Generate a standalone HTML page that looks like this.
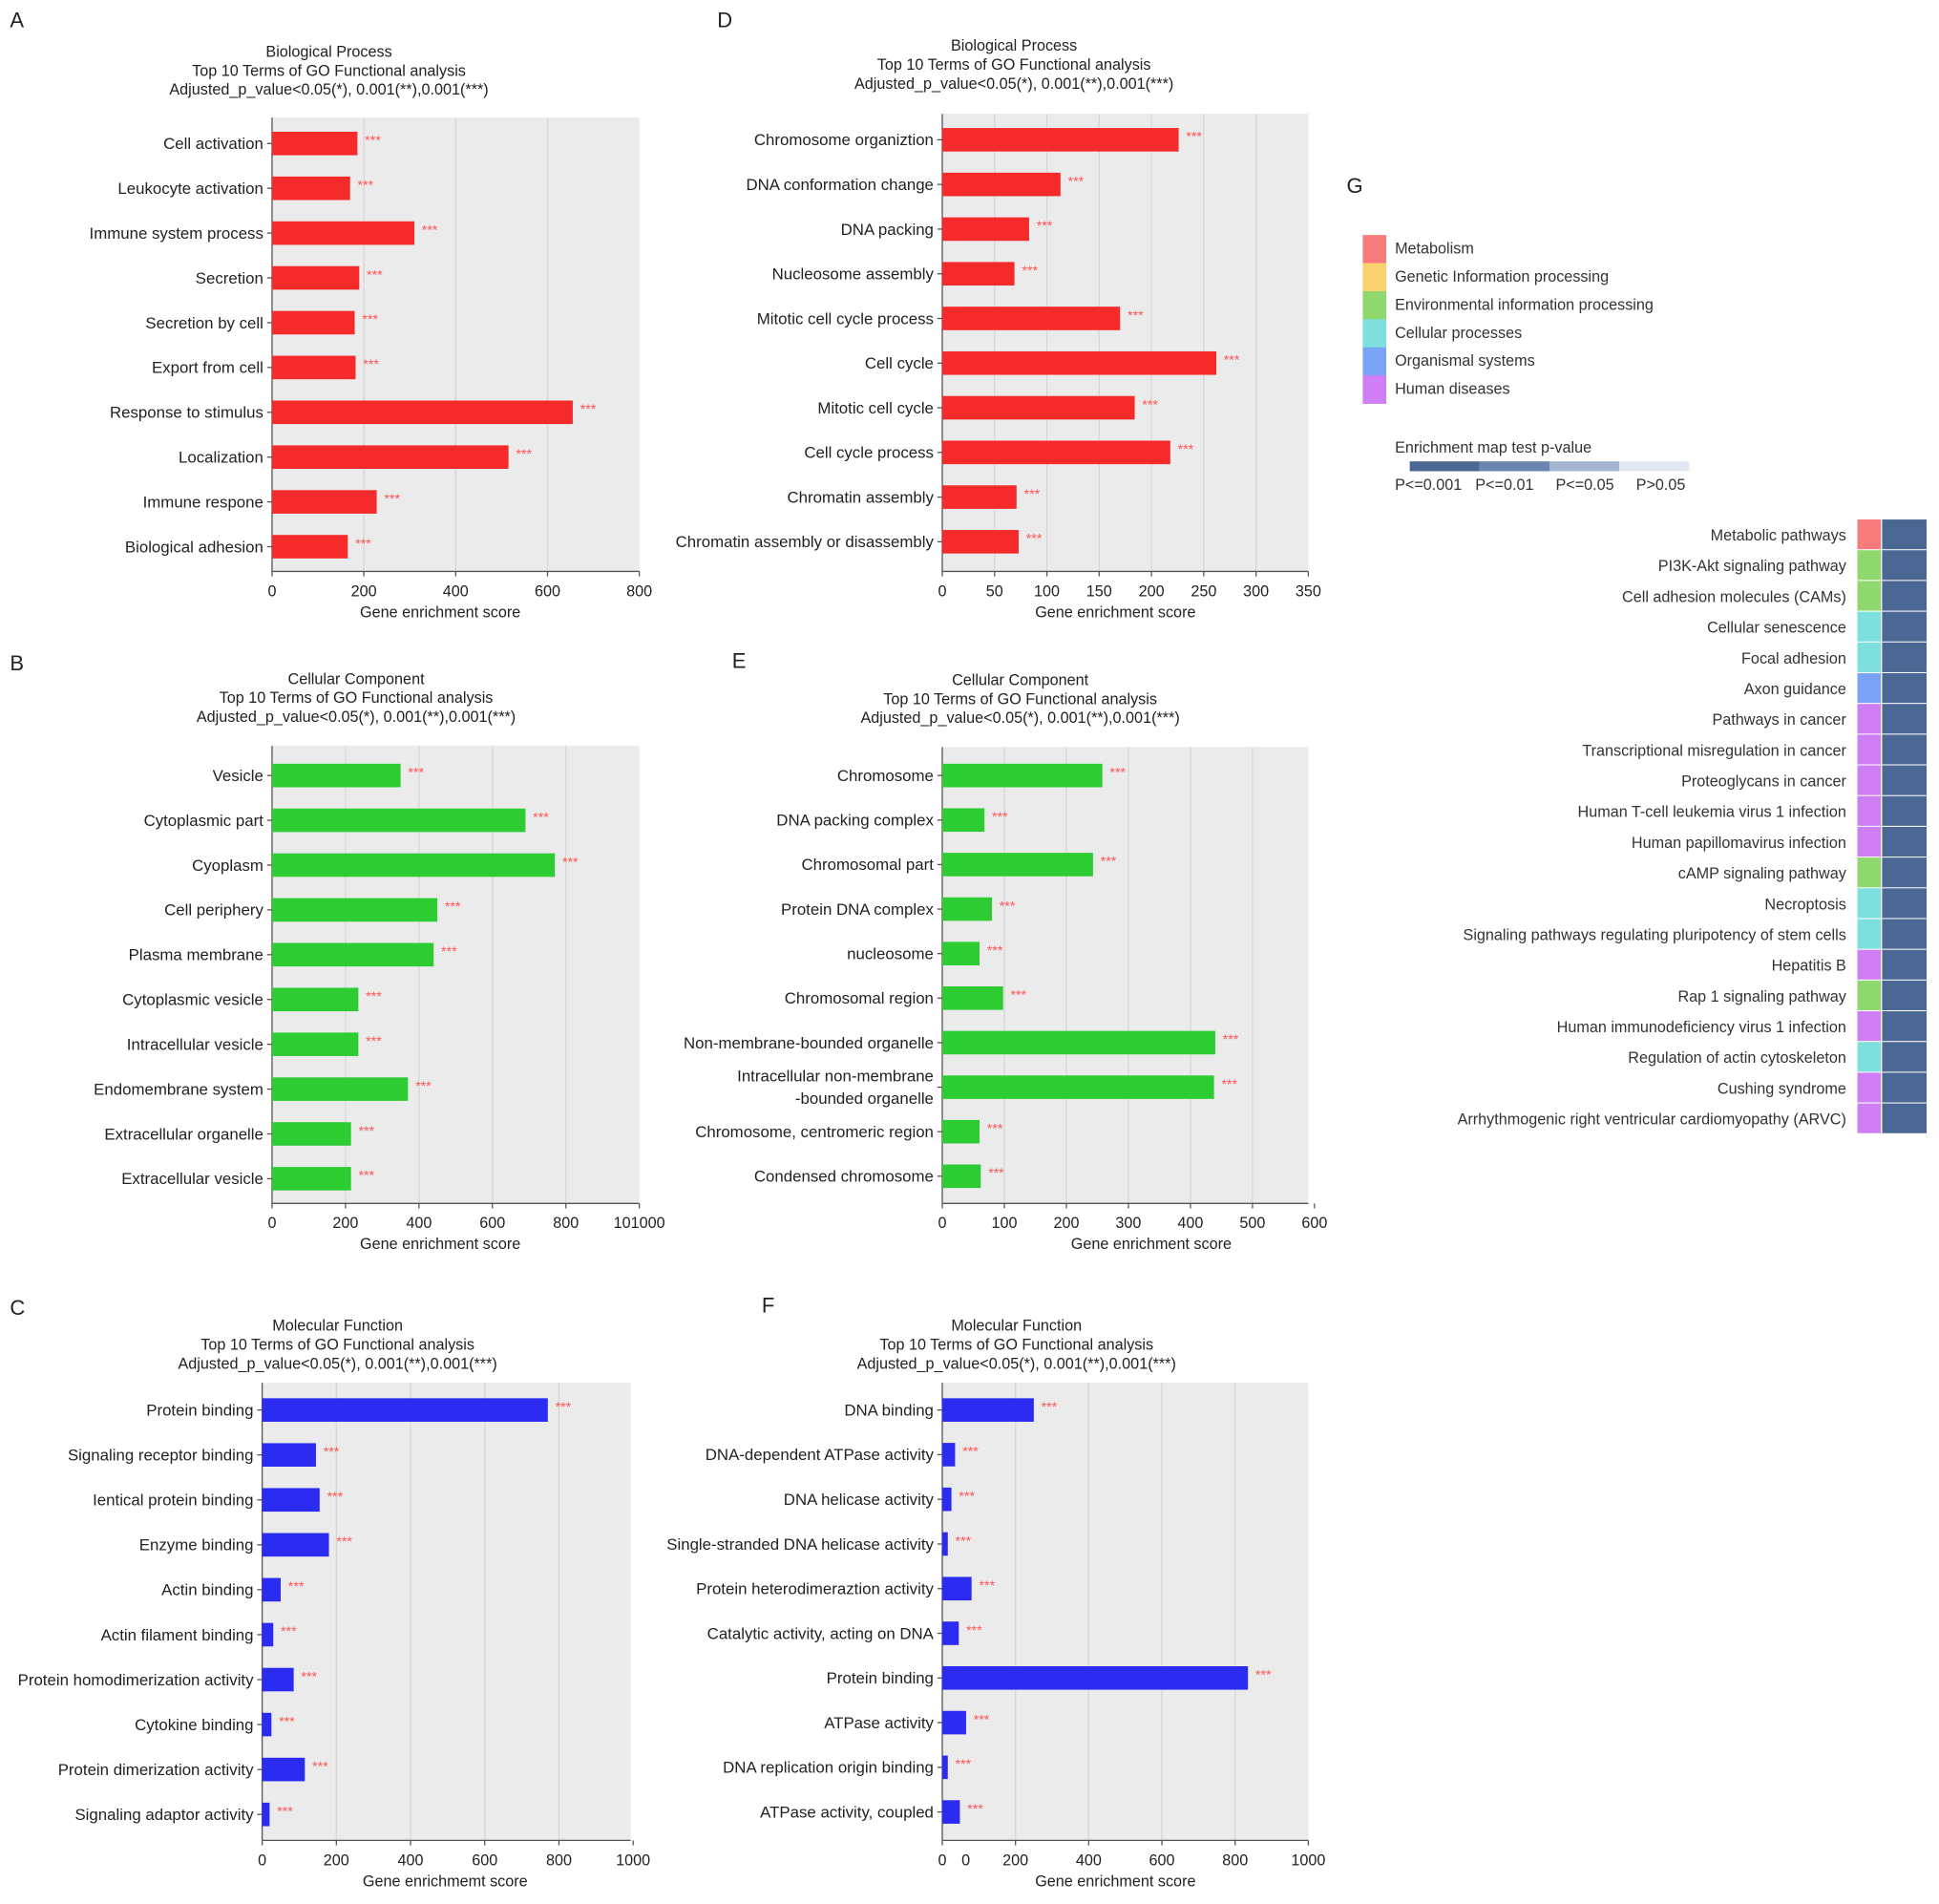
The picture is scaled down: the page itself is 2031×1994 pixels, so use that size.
<!DOCTYPE html>
<html><head><meta charset="utf-8"><style>
html,body{margin:0;padding:0;background:#fff}
svg{display:block;font-family:"Liberation Sans",Arial,sans-serif}
</style></head><body>
<svg id="s" width="2031" height="1994" viewBox="0 0 1568 1539.4" xmlns="http://www.w3.org/2000/svg"></svg>
<script>
// Panel A
const catsA=["Cell activation","Leukocyte activation","Immune system process","Secretion","Secretion by cell","Export from cell","Response to stimulus","Localization","Immune respone","Biological adhesion"];
const valsA=[186,170,310,190,180,182,655,515,228,165];
const ticksA=[0,200,400,600,800];
// Panel B
const catsB=["Vesicle","Cytoplasmic part","Cyoplasm","Cell periphery","Plasma membrane","Cytoplasmic vesicle","Intracellular vesicle","Endomembrane system","Extracellular organelle","Extracellular vesicle"];
const valsB=[350,690,770,450,440,235,235,370,215,215];
const ticksB=[0,200,400,600,800,1000];
const tickLabelsB=["0","200","400","600","800","101000"];
// Panel C
const catsC=["Protein binding","Signaling receptor binding","Ientical protein binding","Enzyme binding","Actin binding","Actin filament binding","Protein homodimerization activity","Cytokine binding","Protein dimerization activity","Signaling adaptor activity"];
const valsC=[770,145,155,180,50,30,85,25,115,20];
const ticksC=[0,200,400,600,800,1000];
// Panel D
const catsD=["Chromosome organiztion","DNA conformation change","DNA packing","Nucleosome assembly","Mitotic cell cycle process","Cell cycle","Mitotic cell cycle","Cell cycle process","Chromatin assembly","Chromatin assembly or disassembly"];
const valsD=[226,113,83,69,170,262,184,218,71,73];
const ticksD=[0,50,100,150,200,250,300,350];
// Panel E
const catsE=["Chromosome","DNA packing complex","Chromosomal part","Protein DNA complex","nucleosome","Chromosomal region","Non-membrane-bounded organelle","Intracellular non-membrane|-bounded organelle","Chromosome, centromeric region","Condensed chromosome"];
const valsE=[258,68,243,80,60,98,440,438,60,62];
const ticksE=[0,100,200,300,400,500,600];
// Panel F
const catsF=["DNA binding","DNA-dependent ATPase activity","DNA helicase activity","Single-stranded DNA helicase activity","Protein heterodimeraztion activity","Catalytic activity, acting on DNA","Protein binding","ATPase activity","DNA replication origin binding","ATPase activity, coupled"];
const valsF=[250,35,25,15,80,45,835,65,15,48];
const ticksF=[0,200,400,600,800,1000];
// Panel G
const legendCats=["Metabolism","Genetic Information processing","Environmental information processing","Cellular processes","Organismal systems","Human diseases"];
const pathways=["Metabolic pathways","PI3K-Akt signaling pathway","Cell adhesion molecules (CAMs)","Cellular senescence","Focal adhesion","Axon guidance","Pathways in cancer","Transcriptional misregulation in cancer","Proteoglycans in cancer","Human T-cell leukemia virus 1 infection","Human papillomavirus infection","cAMP signaling pathway","Necroptosis","Signaling pathways regulating pluripotency of stem cells","Hepatitis B","Rap 1 signaling pathway","Human immunodeficiency virus 1 infection","Regulation of actin cytoskeleton","Cushing syndrome","Arrhythmogenic right ventricular cardiomyopathy (ARVC)"];
const pathwayCat=[0,2,2,3,3,4,5,5,5,5,5,2,3,3,5,2,5,3,5,5];
const pathwayP=[0,0,0,0,0,0,0,0,0,0,0,0,0,0,0,0,0,0,0,0];
const pLabels=["P<=0.001","P<=0.01","P<=0.05","P>0.05"];

const NS="http://www.w3.org/2000/svg";
const svg=document.getElementById('s');
function mk(tag,attrs,parent,text){const e=document.createElementNS(NS,tag);for(const k in attrs)e.setAttribute(k,attrs[k]);if(text!==undefined)e.textContent=text;(parent||svg).appendChild(e);return e;}
const catColors=["#f77b7b","#fbd36e","#8fd86e","#7ee0de","#7aa3f5","#d07ef5"];
const pColors=["#4a6893","#6a86b0","#a3b5d2","#e2e8f3"];

function panel(o){
  const g=mk('g',{});
  
  
  const L=mk('text',{x:o.lx,y:o.ly,'font-size':17,fill:'#222'},g,o.letter);
  
  o.titles.forEach((t,i)=>{const e=mk('text',{x:o.tx,y:o.ty+i*15.3,'font-size':12.5,'text-anchor':'middle',fill:'#222'},g,t);
    });
  const bg=mk('rect',{x:o.x0,y:o.y0,width:o.x1-o.x0,height:o.y1-o.y0,fill:'#ebebeb'},g);
  
  const sx=v=>o.x0+(v-o.tmin)/(o.tmax-o.tmin)*(o.xr-o.x0);
  o.ticks.forEach((t,i)=>{const x=sx(t);
    if(i>0&&x<o.x1-1){const gl=mk('line',{x1:x,x2:x,y1:o.y0,y2:o.y1,stroke:'#d6d6d6','stroke-width':1},g);
      }
    mk('line',{x1:x,x2:x,y1:o.y1,y2:o.y1+4,stroke:'#555'},g);
    const tl=mk('text',{x:x,y:o.y1+20,'font-size':12.5,'text-anchor':'middle',fill:'#222'},g,o.tickLabels?o.tickLabels[i]:String(t));
    
  });
  if(o.extraTick){const e=mk('text',{x:o.extraTick,y:o.y1+20,'font-size':12.5,'text-anchor':'middle',fill:'#222'},g,'0');}
  const ax=mk('line',{x1:o.x0,x2:o.x1,y1:o.y1,y2:o.y1,stroke:'#555'},g);
  
  const ay=mk('line',{x1:o.x0,x2:o.x0,y1:o.y0,y2:o.y1,stroke:'#555'},g);
  
  const xt=mk('text',{x:o.xlx,y:o.y1+37,'font-size':12.5,'text-anchor':'middle',fill:'#222'},g,o.xlabel);
  
  const n=o.cats.length, step=(o.yl-o.yf)/(n-1);
  o.cats.forEach((c,i)=>{const cy=o.yf+i*step;
    const b=mk('rect',{x:o.x0,y:cy-9.5,width:sx(o.vals[i])-o.x0,height:19,fill:o.color},g);
    
    const st=mk('text',{x:sx(o.vals[i])+6,y:cy+1,'font-size':11,fill:'#f55',dy:0},g,'***');
    
    mk('line',{x1:o.x0-4,x2:o.x0,y1:cy,y2:cy,stroke:'#555'},g);
    const parts=c.split('|');
    parts.forEach((p,j)=>{const t=mk('text',{x:o.x0-7,y:cy+4.5+(j-(parts.length-1)/2)*18,'font-size':13,'text-anchor':'end',fill:'#222'},g,p);
      });
  });
}
const T2="Top 10 Terms of GO Functional analysis", T3="Adjusted_p_value<0.05(*), 0.001(**),0.001(***)";
panel({name:'panel-a-biological-process',letter:'A',lx:8,ly:22,titles:["Biological Process",T2,T3],tx:266,ty:46,x0:220,x1:517,xr:517,y0:95,y1:462,tmin:0,tmax:800,ticks:ticksA,cats:catsA,vals:valsA,yf:116,yl:442,color:'#f52a2a',xlabel:'Gene enrichment score',xlx:356});
panel({name:'panel-b-cellular-component',letter:'B',lx:8,ly:542,titles:["Cellular Component",T2,T3],tx:288,ty:553,x0:220,x1:517,xr:517,y0:603,y1:973,tmin:0,tmax:1000,ticks:ticksB,tickLabels:tickLabelsB,cats:catsB,vals:valsB,yf:627,yl:953,color:'#2ecc33',xlabel:'Gene enrichment score',xlx:356});
panel({name:'panel-c-molecular-function',letter:'C',lx:8,ly:1063,titles:["Molecular Function",T2,T3],tx:273,ty:1076,x0:212,x1:510,xr:512,y0:1118,y1:1488,tmin:0,tmax:1000,ticks:ticksC,cats:catsC,vals:valsC,yf:1140,yl:1467,color:'#2b2bf2',xlabel:'Gene enrichmemt score',xlx:360});
panel({name:'panel-d-biological-process',letter:'D',lx:580,ly:22,titles:["Biological Process",T2,T3],tx:820,ty:41,x0:762,x1:1058,xr:1058,y0:92,y1:462,tmin:0,tmax:350,ticks:ticksD,cats:catsD,vals:valsD,yf:113,yl:438,color:'#f52a2a',xlabel:'Gene enrichment score',xlx:902});
panel({name:'panel-e-cellular-component',letter:'E',lx:592,ly:540,titles:["Cellular Component",T2,T3],tx:825,ty:554,x0:762,x1:1058,xr:1063,y0:604,y1:973,tmin:0,tmax:600,ticks:ticksE,cats:catsE,vals:valsE,yf:627,yl:951,color:'#2ecc33',xlabel:'Gene enrichment score',xlx:931});
panel({name:'panel-f-molecular-function',letter:'F',lx:616,ly:1061,titles:["Molecular Function",T2,T3],tx:822,ty:1076,x0:762,x1:1058,xr:1058,y0:1118,y1:1488,tmin:0,tmax:1000,ticks:ticksF,cats:catsF,vals:valsF,yf:1140,yl:1465,color:'#2b2bf2',xlabel:'Gene enrichment score',xlx:902,extraTick:781});

// Panel G
const G=mk('g',{});


mk('text',{x:1089,y:156,'font-size':17,fill:'#222'},G,'G');
legendCats.forEach((c,i)=>{const y=190+i*22.7;
  const r=mk('rect',{x:1102,y:y,width:19,height:23,fill:catColors[i]},G);
  
  const t=mk('text',{x:1128,y:y+15,'font-size':12.5,fill:'#333'},G,c);
  });
mk('text',{x:1128,y:366,'font-size':12.5,fill:'#333'},G,'Enrichment map test p-value');
pLabels.forEach((p,i)=>{const r=mk('rect',{x:1140+i*56.5,y:373,width:56.5,height:8,fill:pColors[i]},G);
  
  const t=mk('text',{x:1128+i*65,y:396,'font-size':12.5,fill:'#333'},G,p);
  });
const rh=(917-420)/pathways.length;
pathways.forEach((p,i)=>{const y=420+i*rh;
  const c1=mk('rect',{x:1502,y:y,width:19,height:rh-0.8,fill:catColors[pathwayCat[i]]},G);
  
  const c2=mk('rect',{x:1522,y:y,width:36,height:rh-0.8,fill:pColors[pathwayP[i]]},G);
  
  const t=mk('text',{x:1493,y:y+17,'font-size':12.5,'text-anchor':'end',fill:'#333'},G,p);
  });
</script>
</body></html>
